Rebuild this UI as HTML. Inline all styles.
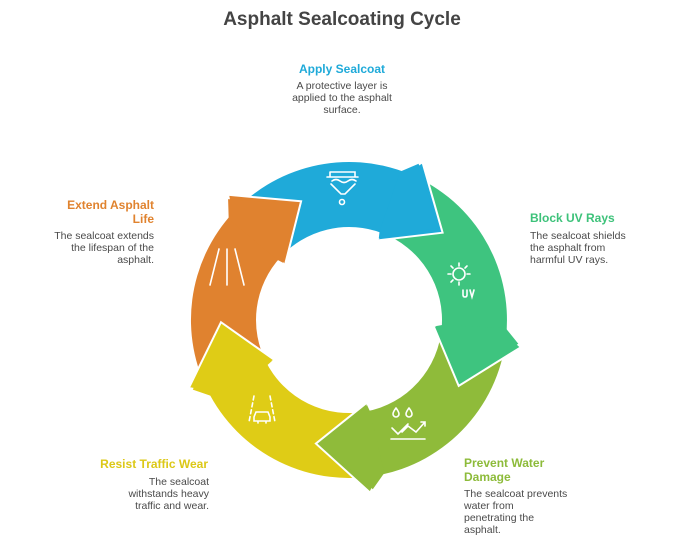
<!DOCTYPE html>
<html><head><meta charset="utf-8">
<style>
html,body{margin:0;padding:0;background:#fff;}
body{width:684px;height:543px;position:relative;overflow:hidden;font-family:"Liberation Sans",Arial,sans-serif;}
.t{position:absolute;font-weight:bold;font-size:12px;line-height:14px;}
.d{position:absolute;font-size:10.5px;line-height:12px;color:#4a4a4a;}
</style></head><body>
<div style="position:absolute;left:0;width:684px;top:9px;text-align:center;font-weight:bold;font-size:19px;color:#444;">Asphalt Sealcoating Cycle</div>

<div class="t" style="left:242px;width:200px;top:62px;text-align:center;color:#1faad9;">Apply Sealcoat</div>
<div class="d" style="left:242px;width:200px;top:80px;text-align:center;">A protective layer is<br>applied to the asphalt<br>surface.</div>

<div class="t" style="left:530px;top:211px;color:#3dc27a;">Block UV Rays</div>
<div class="d" style="left:530px;top:230px;">The sealcoat shields<br>the asphalt from<br>harmful UV rays.</div>

<div class="t" style="left:464px;top:456px;color:#8dbb3a;">Prevent Water<br>Damage</div>
<div class="d" style="left:464px;top:488px;">The sealcoat prevents<br>water from<br>penetrating the<br>asphalt.</div>

<div class="t" style="right:476px;top:457px;text-align:right;color:#dcc817;">Resist Traffic Wear</div>
<div class="d" style="right:475px;top:476px;text-align:right;">The sealcoat<br>withstands heavy<br>traffic and wear.</div>

<div class="t" style="right:530px;top:198px;text-align:right;color:#e0832f;">Extend Asphalt<br>Life</div>
<div class="d" style="right:530px;top:230px;text-align:right;">The sealcoat extends<br>the lifespan of the<br>asphalt.</div>

<svg id="s" width="684" height="543" style="position:absolute;left:0;top:0;" xmlns="http://www.w3.org/2000/svg"></svg>
<script>
(function(){
var cx=349,cy=320,ri=93,ro=158,hi=84,ho=174,ar=128;
var cols=["#1faad9","#3ec47f","#8fbb3a","#dfcc16","#e0822f"];
var bases=[22,96,170,244,313];
function P(r,a){a=a*Math.PI/180;return [(cx+r*Math.sin(a)).toFixed(1),(cy-r*Math.cos(a)).toFixed(1)];}
var bodies="",heads="";
for(var i=0;i<5;i++){
 var b=bases[i],pb=bases[(i+4)%5];if(pb>b)pb-=360;var s=pb-2;
 var a1=P(ro,s),a2=P(ro,b),a3=P(ri,b),a4=P(ri,s);
 bodies+='<path fill="'+cols[i]+'" d="M'+a1+' A'+ro+' '+ro+' 0 0 1 '+a2+' L'+a3+' A'+ri+' '+ri+' 0 0 0 '+a4+' Z"/>';
 var h1=P(ho,b+3),h2=P(ar,b+25),h3=P(hi,b-3),h4=P(ri,b-1),h5=P(ro,b-1);
 heads+='<path fill="'+cols[i]+'" stroke="#fff" stroke-width="2" stroke-linejoin="miter" d="M'+h5+' L'+h1+' L'+h2+' L'+h3+' L'+h4+'"/>';
 heads+='<path fill="'+cols[i]+'" d="M'+P(ro-1,b-3)+' L'+P(ho-3,b+2)+' L'+P(ar,b+22)+' L'+P(hi+3,b-2)+' L'+P(ri+1,b-3)+' Z"/>';
}
var w='fill="none" stroke="#fff" stroke-width="1.6" stroke-linecap="round"';
var icons=
'<g '+w+'><path d="M327 177 h31 M330 172 h25 v5 M330 172 v5 M332 181 q4 -3 8 0 q4 3 8 0 q4 -3 8 0 M331 184 l10 10 h4 l10 -10"/><circle cx="342" cy="202" r="2.5"/></g>'+
'<g '+w+'><circle cx="459" cy="274" r="6"/><path d="M459 263v3 M459 282v3 M448 274h3 M467 274h3 M451 266l2 2 M467 266l-2 2 M451 282l2-2 M463 290v5 q0 2 2 2 q2 0 2-2 v-5 M470 290 l2 7 l2 -7"/></g>'+
'<g '+w+'><path d="M396 408 q-3 4 -3 6 a3 3 0 0 0 6 0 q0 -2 -3 -6 M409 408 q-3 4 -3 6 a3 3 0 0 0 6 0 q0 -2 -3 -6 M391 439h34 M392 428 l6 6 l10 -10 M402 432 l6 -6 l8 6 l9 -10 M421 422 h4 v4"/></g>'+
'<g '+w+'><path d="M254 396 l-5 26 M270 396 l5 26" stroke-dasharray="4 3"/><path d="M256 412 h12 l2 5 v4 h-16 v-4 z M258 421 v2 M266 421 v2"/></g>'+
'<g '+w+'><path d="M219 249 l-9 36 M235 249 l9 36 M227 249 v36" /></g>';
document.getElementById('s').innerHTML=bodies+heads+icons;
})();
</script>
</body></html>
